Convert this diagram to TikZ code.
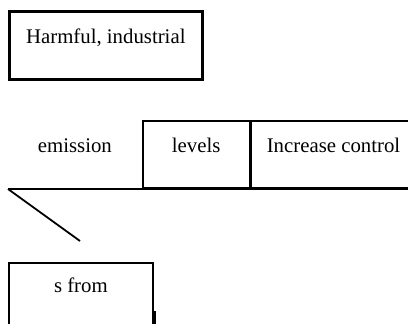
\documentclass[tikz,border=0pt]{standalone}
\usepackage{fontspec}
\setmainfont{Liberation Serif}
\usetikzlibrary{positioning}
\begin{document}
\begin{tikzpicture}[x=1pt,y=-1pt]
  \tikzstyle{every node}=[inner sep=0pt,font=\fontsize{20.8}{24}\selectfont]
  \tikzstyle{cell}=[rectangle,draw,line width=1.8pt,text height=31pt,text depth=36pt]
  \useasboundingbox (0,0) rectangle (408,324);
  \clip (0,0) rectangle (408,324);
  \node[cell,line width=2.6pt,minimum width=193pt,text height=32pt,anchor=north west] (harm) at (8,10) {Harmful, industrial};
  \node[cell,draw=none,minimum width=132pt,anchor=south west] (emis) at (8,189) {emission};
  \node[cell,minimum width=107pt,right=0pt of emis] (lev) {levels};
  \node[cell,minimum width=164pt,right=0pt of lev] (ctrl) {Increase control};
  \draw[line width=1.8pt] (emis.south west) -- (ctrl.south east);
  \coordinate (tail) at (80,241);
  \draw[line width=1.8pt] (emis.south west) -- (tail);
  \node[cell,minimum width=144pt,text height=30pt,text depth=60pt,anchor=north west] (sfrom) at (8,262) {s from};
  \draw[line width=2pt] ([xshift=1.5pt,yshift=-49pt]sfrom.north east) -- ++(0,15);
\end{tikzpicture}
\end{document}
